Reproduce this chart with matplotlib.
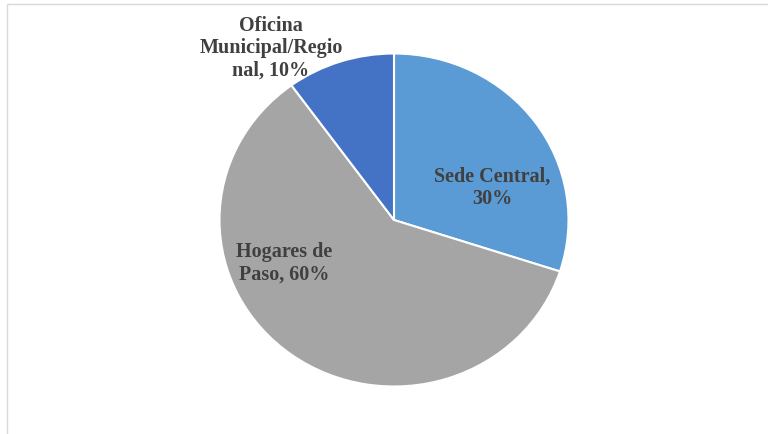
import matplotlib.pyplot as plt
from matplotlib.patches import Rectangle

labels = ['Sede Central,\n30%', 'Hogares de\nPaso, 60%', 'Oficina\nMunicipal/Regio\nnal, 10%']
values = [30, 60, 10]
colors = ['#5B9BD5', '#A5A5A5', '#4472C4']
# label centres in pixels (x from left, y from top)
label_pos = [(492, 188), (284, 263), (271, 48)]

W, H = 768, 435
fig = plt.figure(figsize=(W / 100, H / 100), dpi=100)

# pie is slightly stretched horizontally in the reference
cx, cy, rx, ry = 394, 221, 174.5, 166.5
ax = fig.add_axes([(cx - rx) / W, 1 - (cy + ry) / H, 2 * rx / W, 2 * ry / H])
ax.pie(values, colors=colors, startangle=90, counterclock=False,
       wedgeprops=dict(edgecolor='white', linewidth=1.5))
ax.set_aspect('auto')
ax.set_xlim(-1, 1)
ax.set_ylim(-1, 1)
ax.axis('off')

for text, (x, y) in zip(labels, label_pos):
    fig.text(x / W, 1 - y / H, text, ha='center', va='center',
             family='Liberation Serif', weight='bold', fontsize=14.5,
             color='#404040', linespacing=1.15)

# chart area border (right and bottom edges fall outside the image)
fig.patches.append(Rectangle((6.5 / W, -0.1), 1.2, 1 - 4.5 / H + 0.1,
                             transform=fig.transFigure, fill=False,
                             edgecolor='#D9D9D9', linewidth=1))

fig.savefig('out.png', dpi=100)
